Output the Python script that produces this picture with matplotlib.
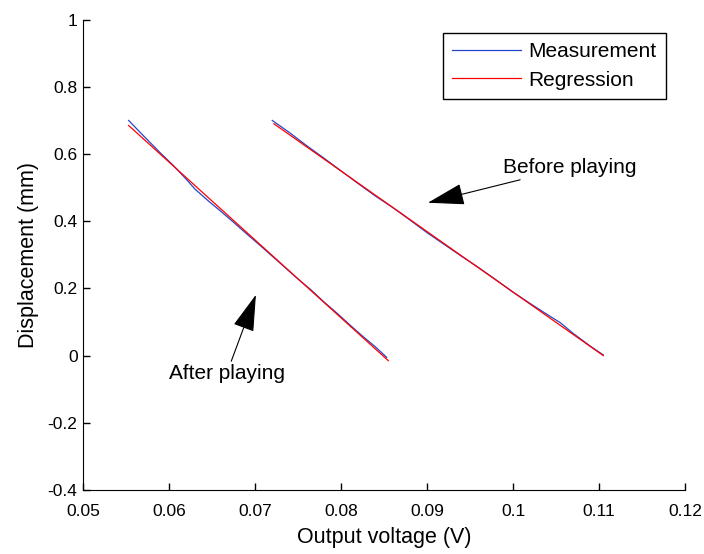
import numpy as np
import matplotlib
matplotlib.use('Agg')
import matplotlib.pyplot as plt

plt.rcParams['font.family'] = ['Liberation Sans', 'DejaVu Sans']

# after playing (left pair)
x_after = [0.0553, 0.0570, 0.0590, 0.0605, 0.0620, 0.0630, 0.0645, 0.0660, 0.0675, 0.0690, 0.0705,
           0.0720, 0.0735, 0.0750, 0.0765, 0.0780, 0.0795, 0.0810, 0.0825, 0.0840, 0.0853]
y_after = [0.700, 0.655, 0.603, 0.566, 0.525, 0.496, 0.462, 0.430, 0.397, 0.363, 0.330,
           0.296, 0.262, 0.228, 0.196, 0.160, 0.127, 0.092, 0.058, 0.026, -0.005]
reg_after_x = [0.0553, 0.0855]
reg_after_y = [0.685, -0.015]

# before playing (right pair)
x_before = [0.0720, 0.0740, 0.0760, 0.0780, 0.0800, 0.0820, 0.0840, 0.0860, 0.0880, 0.0900, 0.0920,
            0.0940, 0.0960, 0.0980, 0.1000, 0.1020, 0.1040, 0.1055, 0.1070, 0.1090, 0.1105]
y_before = [0.700, 0.664, 0.625, 0.588, 0.550, 0.512, 0.475, 0.441, 0.404, 0.366, 0.331,
            0.296, 0.262, 0.226, 0.189, 0.155, 0.122, 0.098, 0.066, 0.028, 0.002]
reg_before_x = [0.0722, 0.1105]
reg_before_y = [0.690, 0.000]

xticks = [0.05, 0.06, 0.07, 0.08, 0.09, 0.1, 0.11, 0.12]
xtick_labels = ['0.05', '0.06', '0.07', '0.08', '0.09', '0.1', '0.11', '0.12']
yticks = [-0.4, -0.2, 0, 0.2, 0.4, 0.6, 0.8, 1]
ytick_labels = ['-0.4', '-0.2', '0', '0.2', '0.4', '0.6', '0.8', '1']

fig = plt.figure(figsize=(7.04, 5.54), dpi=100)
ax = fig.add_axes([0.118, 0.1155, 0.855, 0.849])

azul = '#2545c8'
vermelho = '#ff0000'
ax.plot(x_after, y_after, color=azul, lw=0.9, label='Measurement')
ax.plot(reg_after_x, reg_after_y, color=vermelho, lw=0.9, label='Regression')
ax.plot(x_before, y_before, color=azul, lw=0.9)
ax.plot(reg_before_x, reg_before_y, color=vermelho, lw=0.9)

ax.set_xlim(0.05, 0.12)
ax.set_ylim(-0.4, 1)
ax.set_xticks(xticks)
ax.set_xticklabels(xtick_labels)
ax.set_yticks(yticks)
ax.set_yticklabels(ytick_labels)
ax.tick_params(direction='in', length=5, labelsize=12.5, width=1)
ax.tick_params(axis='x', pad=10)
ax.tick_params(axis='y', pad=4)
ax.spines['top'].set_visible(False)
ax.spines['right'].set_visible(False)
ax.set_xlabel('Output voltage (V)', fontsize=15.5, labelpad=6)
ax.set_ylabel('Displacement (mm)', fontsize=15.5, labelpad=6)

seta = dict(arrowstyle='-|>,head_length=1.3,head_width=0.38', color='k', lw=0.8,
            mutation_scale=18, shrinkA=0, shrinkB=0)
ax.annotate('Before playing', xy=(0.0901, 0.455), xytext=(0.0988, 0.56),
            ha='left', va='center', fontsize=15, arrowprops=seta)
ax.annotate('After playing', xy=(0.0701, 0.181), xytext=(0.0667, -0.025),
            ha='center', va='top', fontsize=15, arrowprops=seta)

leg = ax.legend(loc='upper right', bbox_to_anchor=(0.968, 0.972), fontsize=15,
                handlelength=3.3, handletextpad=0.35, fancybox=False, edgecolor='k',
                framealpha=1, borderaxespad=0, labelspacing=0.45, borderpad=0.45)
leg.get_frame().set_linewidth(1)

fig.savefig('out.png', dpi=100)
